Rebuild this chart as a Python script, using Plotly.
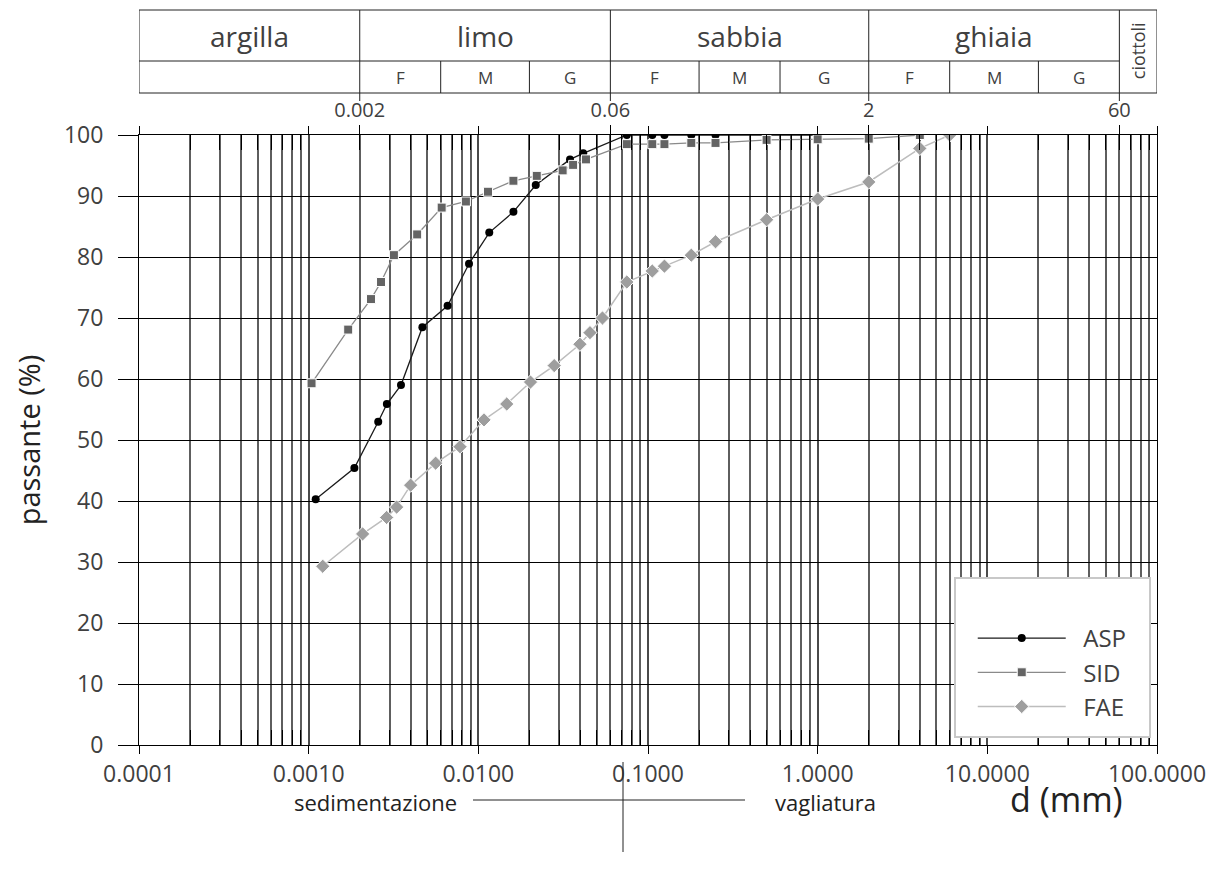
import math
import plotly.graph_objects as go

# ---------------- data ----------------
asp_d = [0.00110, 0.00186, 0.00257, 0.00289, 0.00350, 0.00468, 0.00659, 0.00881,
         0.0116, 0.0161, 0.0218, 0.0347, 0.0415, 0.075, 0.106, 0.125, 0.18, 0.25, 0.5, 1.0]
asp_p = [40.3, 45.4, 53.0, 55.9, 59.0, 68.5, 72.0, 78.9,
         84.0, 87.4, 91.8, 96.0, 97.0, 100, 100, 100, 100, 100, 100, 100]

sid_d = [0.00104, 0.00171, 0.00233, 0.00267, 0.00318, 0.00436, 0.00608, 0.00845,
         0.0114, 0.0161, 0.0221, 0.0314, 0.0362, 0.0431, 0.075, 0.106, 0.125, 0.18,
         0.25, 0.5, 1.0, 2.0, 4.0]
sid_p = [59.3, 68.1, 73.1, 75.9, 80.3, 83.7, 88.1, 89.1,
         90.7, 92.5, 93.3, 94.2, 95.1, 96.0, 98.5, 98.5, 98.5, 98.7,
         98.7, 99.2, 99.3, 99.4, 100]

fae_d = [0.00121, 0.00208, 0.00288, 0.00330, 0.00399, 0.00560, 0.00780, 0.0108,
         0.0147, 0.0203, 0.0280, 0.0397, 0.0455, 0.0539, 0.075, 0.106, 0.125, 0.18,
         0.25, 0.5, 1.0, 2.0, 4.0, 6.0]
fae_p = [29.3, 34.6, 37.3, 39.0, 42.6, 46.2, 48.9, 53.3,
         55.9, 59.5, 62.2, 65.7, 67.6, 70.0, 75.9, 77.7, 78.5, 80.3,
         82.5, 86.1, 89.5, 92.3, 97.8, 100]

x_tickvals = [1e-4, 1e-3, 1e-2, 1e-1, 1, 10, 100]
x_ticktext = ["0.0001", "0.0010", "0.0100", "0.1000", "1.0000", "10.0000", "100.0000"]

# classification table
class_names = ["argilla", "limo", "sabbia", "ghiaia", "ciottoli"]
class_bounds = [1e-4, 0.002, 0.06, 2, 60, 100]
sub_bounds = [0.002, 0.006, 0.02, 0.06, 0.2, 0.6, 2, 6, 20, 60]
sub_names = ["F", "M", "G", "F", "M", "G", "F", "M", "G"]
top_tickvals = [0.002, 0.06, 2, 60]
top_ticktext = ["0.002", "0.06", "2", "60"]

FONT = "Open Sans"
TXT = "#404040"
NB = "\u00a0\u00a0"

fig = go.Figure()
fig.add_trace(go.Scatter(x=asp_d, y=asp_p, name=NB + "ASP", mode="lines+markers",
                         line=dict(color="#1a1a1a", width=1.3),
                         marker=dict(symbol="circle", size=8, color="#000000")))
fig.add_trace(go.Scatter(x=sid_d, y=sid_p, name=NB + "SID", mode="lines+markers",
                         line=dict(color="#8a8a8a", width=1.3),
                         marker=dict(symbol="square", size=9, color="#646464",
                                     line=dict(color="#ffffff", width=1))))
fig.add_trace(go.Scatter(x=fae_d, y=fae_p, name=NB + "FAE", mode="lines+markers",
                         line=dict(color="#bdbdbd", width=1.5),
                         marker=dict(symbol="diamond", size=11, color="#9e9e9e",
                                     line=dict(color="#ffffff", width=1))))
# dummy trace for the top axis
fig.add_trace(go.Scatter(x=[1e-4, 100], y=[None, None], xaxis="x2", showlegend=False,
                         hoverinfo="skip", mode="lines"))

minor_vals = [m * 10 ** e for e in range(-4, 2) for m in range(2, 10)]

fig.update_layout(
    width=1220, height=881,
    margin=dict(l=131, r=71, t=127, b=144),
    paper_bgcolor="white", plot_bgcolor="white",
    font=dict(family=FONT, color=TXT, size=18),
    showlegend=True,
    legend=dict(x=0.819, y=0.2115, xanchor="left", yanchor="top",
                bgcolor="rgba(0,0,0,0)", borderwidth=0,
                font=dict(size=24, color=TXT), itemwidth=88),
    xaxis=dict(type="log", range=[-4, 2], tickmode="array",
               tickvals=x_tickvals, ticktext=x_ticktext,
               ticks="outside", ticklen=8, tickcolor="#000", tickwidth=1,
               tickfont=dict(size=23, color=TXT),
               showgrid=True, gridcolor="#4a4a4a", gridwidth=1.8,
               showline=True, linecolor="#000", linewidth=1, mirror="allticks",
               zeroline=False,
               minor=dict(tickmode="array", tickvals=minor_vals, showgrid=True,
                          gridcolor="#5e5e5e", gridwidth=1.8, ticks="inside",
                          ticklen=15, tickcolor="#000", tickwidth=1.4)),
    xaxis2=dict(type="log", range=[-4, 2], overlaying="x", side="top", anchor="y",
                tickmode="array", tickvals=top_tickvals, ticktext=top_ticktext,
                ticks="outside", ticklen=9, tickcolor="#000", tickwidth=1,
                tickfont=dict(size=20, color=TXT), showgrid=False, zeroline=False,
                showline=False),
    yaxis=dict(range=[0, 100], dtick=10, tick0=0,
               ticks="outside", ticklen=20, tickcolor="#000", tickwidth=1,
               tickfont=dict(size=23, color=TXT), ticklabelstandoff=10,
               showgrid=True, gridcolor="#000", gridwidth=1,
               showline=True, linecolor="#000", linewidth=1, mirror=True,
               zeroline=False,
               title=dict(text="passante (%)", font=dict(size=29, color="#222"),
                          standoff=14)),
)

# ---------------- classification table ----------------
def py(pix):
    return (745 - pix) / 610.0


def pxp(pix):
    return (pix - 139) / 1018.0


Y_TOP, Y_MID, Y_BOT, Y_TICK = py(10), py(61), py(93), py(101)
LC = dict(color="#222", width=1)
shapes = []
shapes.append(dict(type="line", xref="x", yref="paper", x0=1e-4, x1=100, y0=Y_TOP, y1=Y_TOP, line=LC))
shapes.append(dict(type="line", xref="x", yref="paper", x0=1e-4, x1=60, y0=Y_MID, y1=Y_MID, line=LC))
shapes.append(dict(type="line", xref="x", yref="paper", x0=1e-4, x1=100, y0=Y_BOT, y1=Y_BOT, line=LC))
for b in [1e-4, 100]:
    shapes.append(dict(type="line", xref="x", yref="paper", x0=b, x1=b, y0=Y_BOT, y1=Y_TOP, line=LC))
for b in top_tickvals:
    shapes.append(dict(type="line", xref="x", yref="paper", x0=b, x1=b, y0=Y_TICK, y1=Y_TOP, line=LC))
for b in sub_bounds[1:-1]:
    if b in top_tickvals:
        continue
    shapes.append(dict(type="line", xref="x", yref="paper", x0=b, x1=b, y0=Y_BOT, y1=Y_MID, line=LC))

# legend box
shapes.append(dict(type="rect", xref="paper", yref="paper", x0=pxp(955), x1=pxp(1150),
                   y0=py(737), y1=py(578), fillcolor="white", layer="above",
                   line=dict(color="#c8c8c8", width=2)))

# bottom sedimentazione / vagliatura marker
shapes.append(dict(type="line", xref="paper", yref="paper", x0=pxp(473), x1=pxp(745),
                   y0=py(800), y1=py(800), line=dict(color="#222", width=1)))
shapes.append(dict(type="line", xref="paper", yref="paper", x0=pxp(623), x1=pxp(623),
                   y0=py(762), y1=py(852), line=dict(color="#222", width=1)))

annotations = []
for i, name in enumerate(class_names):
    lx = (math.log10(class_bounds[i]) + math.log10(class_bounds[i + 1])) / 2
    if name == "ciottoli":
        annotations.append(dict(text=name, x=lx, xref="x", y=py(51), yref="paper",
                                xanchor="center", yanchor="middle",
                                showarrow=False, textangle=-90,
                                font=dict(size=18, color=TXT)))
    else:
        annotations.append(dict(text=name, x=lx, xref="x", y=py(36), yref="paper",
                                xanchor="center", yanchor="middle",
                                showarrow=False, font=dict(size=28, color=TXT)))
for i, s in enumerate(sub_names):
    lx = (math.log10(sub_bounds[i]) + math.log10(sub_bounds[i + 1])) / 2
    annotations.append(dict(text=s, x=lx, xref="x", y=py(77), yref="paper",
                            xanchor="center", yanchor="middle",
                            showarrow=False, font=dict(size=17, color=TXT)))

annotations.append(dict(text="d (mm)", x=pxp(1066), y=py(799), xref="paper", yref="paper",
                        xanchor="center", yanchor="middle",
                        showarrow=False, font=dict(size=34, color="#222")))
annotations.append(dict(text="sedimentazione", x=pxp(459), y=py(802), xref="paper", yref="paper",
                        xanchor="right", yanchor="middle", showarrow=False,
                        font=dict(size=22, color="#222")))
annotations.append(dict(text="vagliatura", x=pxp(773), y=py(802), xref="paper", yref="paper",
                        xanchor="left", yanchor="middle", showarrow=False,
                        font=dict(size=22, color="#222")))

fig.update_layout(shapes=shapes, annotations=annotations)
fig.write_html("out.html")
